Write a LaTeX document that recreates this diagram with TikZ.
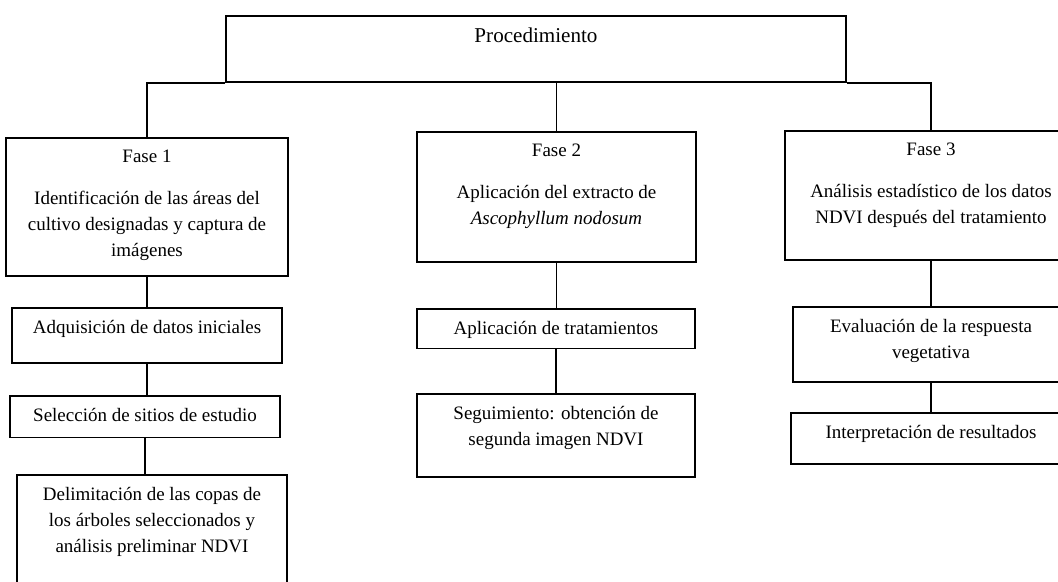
\documentclass[tikz,border=0pt]{standalone}
\usepackage{fontspec}
\setmainfont{Liberation Serif}

\begin{document}
\begin{tikzpicture}[x=0.025cm, y=-0.025cm,
  stepbox/.style={draw, line width=1.3pt, anchor=north, align=center,
              inner xsep=0pt, inner ysep=0.3cm,
              font=\fontsize{13.5}{18.5}\selectfont},
  link/.style={line width=1.3pt}
]
\useasboundingbox (0,0) rectangle (1058,581);
\clip (0,0) rectangle (1058,581);

\node[stepbox, minimum width=15.5cm, text depth=0.69cm,
      font=\fontsize{15}{18.5}\selectfont] (proc) at (536,15) {Procedimiento};

% fases
\node[stepbox, minimum width=7.03cm, text depth=0.19cm] (f1) at (147,137)
  {Fase 1\\[0.4cm] Identificación de las áreas del\\ cultivo designadas y captura de\\ imágenes};
\node[stepbox, minimum width=6.98cm, text depth=0.64cm] (f2) at (556.5,131)
  {Fase 2\\[0.4cm] Aplicación del extracto de\\ \textit{Ascophyllum nodosum}};
\node[stepbox, minimum width=7.3cm, text depth=0.61cm] (f3) at (931,130)
  {Fase 3\\[0.4cm] Análisis estadístico de los datos\\ NDVI después del tratamiento};

% pasos de cada fase
\node[stepbox, minimum width=6.75cm, text depth=0.44cm] (adq) at (147,307) {Adquisición de datos iniciales};
\node[stepbox, minimum width=6.75cm, text depth=0.11cm] (sel) at (145,395) {Selección de sitios de estudio};
\node[stepbox, minimum width=6.75cm, text depth=1.0cm] (del) at (152,474)
  {Delimitación de las copas de\\ los árboles seleccionados y\\ análisis preliminar NDVI};
\node[stepbox, minimum width=6.95cm, text depth=0.06cm] (apl) at (556,308) {Aplicación de tratamientos};
\node[stepbox, minimum width=6.95cm, text depth=0.49cm] (seg) at (556,393)
  {Seguimiento: obtención de\\ segunda imagen NDVI};
\node[stepbox, minimum width=6.9cm, text depth=0.29cm] (eval) at (931,306)
  {Evaluación de la respuesta\\ vegetativa};
\node[stepbox, minimum width=7.0cm, text depth=0.34cm] (interp) at (931,412) {Interpretación de resultados};

\draw[link] (proc.south west) -| (f1.north);
\draw[link] (proc.south -| f2.north) -- (f2.north);
\draw[link] (proc.south east) -| (f3.north);
\foreach \a/\b in {f1/adq, adq/sel, sel/del, f2/apl, apl/seg, f3/eval, eval/interp}
  \draw[link] (\a.south) -- (\a.south |- \b.north);
\end{tikzpicture}
\end{document}
